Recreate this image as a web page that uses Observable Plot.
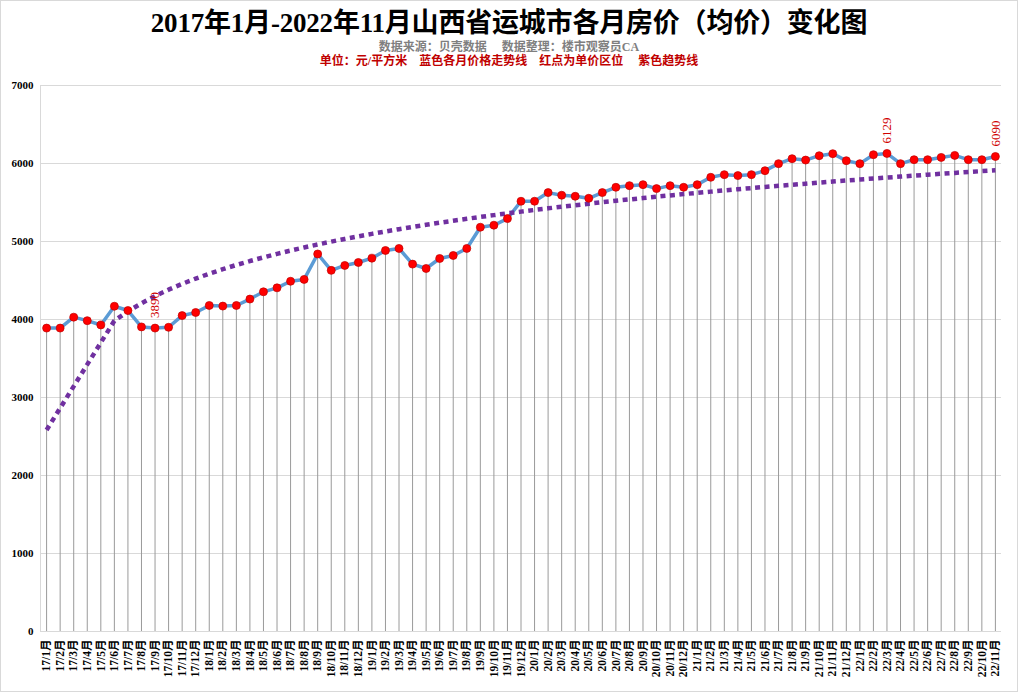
<!DOCTYPE html>
<html>
<head>
<meta charset="utf-8">
<script src="https://cdn.jsdelivr.net/npm/d3@7"></script>
<script src="https://cdn.jsdelivr.net/npm/@observablehq/plot@0.6"></script>
<style>
  html, body { margin: 0; padding: 0; background: #fff; }
  #wrap { position: relative; width: 1018px; height: 692px; box-sizing: border-box; border: 1px solid #d9d9d9; overflow: hidden; }
  #head { height: 69px; text-align: center; font-family: "Liberation Serif", "Noto Sans CJK SC", serif; font-weight: bold; }
  #title { font-size: 27px; line-height: 27px; padding-top: 9px; color: #000; letter-spacing: -0.2px; }
  #sub1 { font-size: 12px; line-height: 14px; margin-top: 3px; color: #7f7f7f; white-space: pre; }
  #sub2 { font-size: 12px; line-height: 14px; color: #c00000; white-space: pre; }
  svg { display: block; }
</style>
</head>
<body>
<div id="wrap">
  <div id="head">
    <div id="title">2017年1月-2022年11月山西省运城市各月房价（均价）变化图</div>
    <div id="sub1">数据来源：贝壳数据     数据整理：楼市观察员CA</div>
    <div id="sub2">单位：元/平方米    蓝色各月价格走势线    红点为单价区位     紫色趋势线</div>
  </div>
  <div id="chart"></div>
</div>
<script>
const months = [
  "17/1月","17/2月","17/3月","17/4月","17/5月","17/6月","17/7月","17/8月","17/9月","17/10月","17/11月","17/12月",
  "18/1月","18/2月","18/3月","18/4月","18/5月","18/6月","18/7月","18/8月","18/9月","18/10月","18/11月","18/12月",
  "19/1月","19/2月","19/3月","19/4月","19/5月","19/6月","19/7月","19/8月","19/9月","19/10月","19/11月","19/12月",
  "20/1月","20/2月","20/3月","20/4月","20/5月","20/6月","20/7月","20/8月","20/9月","20/10月","20/11月","20/12月",
  "21/1月","21/2月","21/3月","21/4月","21/5月","21/6月","21/7月","21/8月","21/9月","21/10月","21/11月","21/12月",
  "22/1月","22/2月","22/3月","22/4月","22/5月","22/6月","22/7月","22/8月","22/9月","22/10月","22/11月"
];
const prices = [
  3890, 3890, 4030, 3985, 3930, 4170, 4115, 3905, 3890, 3900, 4050, 4090,
  4180, 4172, 4180, 4262, 4355, 4406, 4490, 4514, 4840, 4630, 4693, 4731,
  4786, 4885, 4911, 4710, 4654, 4782, 4821, 4911, 5183, 5209, 5294, 5516,
  5516, 5627, 5593, 5580, 5554, 5627, 5695, 5716, 5729, 5678, 5716, 5695,
  5729, 5823, 5857, 5845, 5857, 5908, 5998, 6062, 6044, 6100, 6126, 6036,
  5998, 6113, 6129, 5998, 6049, 6049, 6078, 6104, 6049, 6049, 6090
];
const labeledMonths = ["17/9月", "22/3月", "22/11月"];
const yTicks = [0, 1000, 2000, 3000, 4000, 5000, 6000, 7000];
// the trendline is drawn through these months (straight from the first to the sixth month, as in the source chart)
const trendMonths = months.filter((m, i) => i === 0 || i >= 5);

const data = months.map((m, i) => ({month: m, price: prices[i], idx: i + 1}));

// logarithmic trend line fitted (least squares) to the monthly prices
const lx = data.map(d => Math.log(d.idx));
const mx = d3.mean(lx), my = d3.mean(prices);
const b = d3.sum(lx.map((v, i) => (v - mx) * (prices[i] - my))) / d3.sum(lx.map(v => (v - mx) ** 2));
const a = my - b * mx;
const trend = data
  .filter(d => trendMonths.includes(d.month))
  .map(d => ({month: d.month, value: a + b * Math.log(d.idx)}));

const serif = "'Liberation Serif', 'Noto Sans CJK SC', serif";

const chart = Plot.plot({
  width: 1016,
  height: 621,
  marginTop: 15,
  marginLeft: 39,
  marginRight: 16,
  marginBottom: 60,
  style: {fontFamily: serif, background: "#fff", overflow: "visible"},
  x: {type: "point", domain: months, padding: 0.45, label: null},
  y: {domain: [0, 7000], label: null},
  marks: [
    Plot.ruleY(yTicks, {stroke: "#d9d9d9", strokeWidth: 1}),
    Plot.frame({anchor: "left", stroke: "#d9d9d9"}),
    Plot.ruleX(data, {x: "month", y1: 0, y2: "price", stroke: "#9a9a9a", strokeWidth: 1}),
    Plot.line(data, {x: "month", y: "price", stroke: "#5b9bd5", strokeWidth: 3.5, strokeLinejoin: "round"}),
    Plot.line(trend, {x: "month", y: "value", stroke: "#7030a0", strokeWidth: 4.5, strokeDasharray: "5,4.5", strokeLinecap: "butt", strokeLinejoin: "miter"}),
    Plot.dot(data, {x: "month", y: "price", r: 4, fill: "#ff0000", stroke: "#c00000", strokeWidth: 0.7}),
    Plot.text(data.filter(d => labeledMonths.includes(d.month)), {
      x: "month", y: "price", text: d => String(d.price), rotate: -90,
      textAnchor: "start", lineAnchor: "middle", dy: -10,
      fill: "#d00000", fontSize: 13, fontFamily: serif
    }),
    Plot.axisY({ticks: yTicks, tickSize: 0, tickPadding: 7, fontSize: 11, fontWeight: "bold", fontFamily: serif, tickFormat: d => String(d), fill: "#000"}),
    Plot.axisX({tickSize: 0, tickPadding: 8, tickRotate: -90, fontSize: 11.5, fontWeight: "bold", fontFamily: serif, fill: "#000"})
  ]
});
document.getElementById("chart").appendChild(chart);
</script>
</body>
</html>
